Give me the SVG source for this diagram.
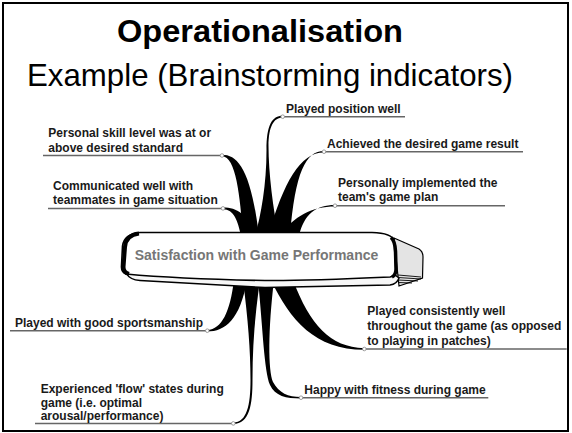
<svg xmlns="http://www.w3.org/2000/svg" width="572" height="433" viewBox="0 0 572 433">
  <style>
    .title { font-family: "Liberation Sans", Arial, sans-serif; fill: #000; }
    .lbl { font-family: "Liberation Sans", Arial, sans-serif; font-size: 12px; font-weight: bold; fill: #1a1a1a; }
    .uline { stroke: #666; stroke-width: 1.5; fill: none; }
    .dot { fill: #fff; stroke: #888; stroke-width: 0.8; }
    .branch { fill: #000; stroke: none; }
    .center-text { font-family: "Liberation Sans", Arial, sans-serif; font-size: 14px; font-weight: bold; fill: #767676; }
  </style>

  <rect x="0" y="0" width="572" height="433" fill="#fff"/>
  <rect x="3" y="3" width="565" height="428" fill="none" stroke="#000" stroke-width="2"/>

  <!-- heading -->
  <text class="title" x="117" y="42" font-size="32" font-weight="bold" textLength="286" lengthAdjust="spacingAndGlyphs">Operationalisation</text>
  <text class="title" x="27" y="86" font-size="31.2" textLength="486" lengthAdjust="spacingAndGlyphs">Example (Brainstorming indicators)</text>

  <!-- tapered branches from the central board -->
  <g id="connectors">
    <!-- top side -->
    <path class="branch" d="M222,154.7 C238,154.7 251,170 259,236 L243,236 C240,196 236,156.3 222,156.3 Z"/>
    <path class="branch" d="M223,207.6 C237,207.6 248,214 255,236 L241,236 C238,221 234,209.2 223,209.2 Z"/>
    <path class="branch" d="M282.7,115.8 C272,115.8 266.5,125 266.5,150 C266.5,185 261,215 255,236 L279,236 C273,210 268.5,172 268.5,146 C268.5,126 274,117.4 282.7,117.4 Z"/>
    <path class="branch" d="M324,151 C306,151 295,172 290,236 L268,236 C284,182 300,152.6 324,152.6 Z"/>
    <path class="branch" d="M335,205 C316,205 304,214 299,236 L280,236 C294,216 312,206.6 335,206.6 Z"/>
    <!-- bottom side -->
    <path class="branch" d="M247,280 C240,320 225,331.5 207.3,331.5 L207.3,330 C222,329 230,312 234,280 Z"/>
    <path class="branch" d="M243,280 C248,320 250.5,350 250.5,380 C250.5,405 247,422.4 233.3,422.6 L233.3,424.1 C249.5,423.5 252.5,405 252.5,380 C252.5,345 255,315 260,280 Z"/>
    <path class="branch" d="M258,280 C263,330 264,370 270,385 C275,396 286,398.5 301,398.5 L301,397 C288,397 279,393 273,382 C268,370 268,330 274,280 Z"/>
    <path class="branch" d="M271,280 C290,320 315,349.8 364.3,349.8 L364.3,348.3 C330,347 310,325 293,280 Z"/>
  </g>

  <!-- central board -->
  <g id="node-center">
    <!-- right side face -->
    <path d="M394,238 L419,249 Q423,251.5 423,257 L422.5,278 L399,286 Z" fill="#e4e4e4" stroke="#000" stroke-width="1.2"/>
    <g stroke="#000" stroke-width="0.9">
      <line x1="398" y1="275" x2="421" y2="277"/>
      <line x1="398" y1="277.5" x2="421" y2="279"/>
      <line x1="398" y1="280" x2="418" y2="281"/>
      <line x1="398" y1="282.5" x2="412" y2="283"/>
    </g>
    <!-- underside band -->
    <path d="M126,273 Q130,280 140,280.5 Q200,284 265,287.5 Q330,286 390,285 Q397,284 399,278 L395,275 Z" fill="#f7f7f7" stroke="#000" stroke-width="1.5"/>
    <!-- front face -->
    <path d="M140,232.5 L372,232.5 Q392,233 394,241 L396,270 Q396,276 390,277 Q300,281 265,280.5 Q180,279 126,274 Q121,272 121.5,266 L122.5,246 Q124,234 140,232.5 Z" fill="#fff" stroke="#000" stroke-width="1.6"/>
    <path d="M139,233.5 Q126,235 125,247 L123.5,267 Q123.5,272.5 129,274" fill="none" stroke="#000" stroke-width="4"/>
    <path d="M391,237.5 Q395,241 395.5,251 L396,269 Q396,275 392,277" fill="none" stroke="#000" stroke-width="3.5"/>
    <text class="center-text" x="256.5" y="260" text-anchor="middle">Satisfaction with Game Performance</text>
  </g>

  <g id="node-position">
    <line class="uline" x1="282.7" y1="116.7" x2="405" y2="116.7"/>
    <circle class="dot" cx="282.7" cy="116.7" r="1.8"/>
    <text class="lbl" x="286" y="112.5">Played position well</text>
  </g>

  <g id="node-result">
    <line class="uline" x1="324" y1="151.7" x2="523" y2="151.7"/>
    <circle class="dot" cx="324" cy="151.7" r="1.8"/>
    <text class="lbl" x="327" y="148.3">Achieved the desired game result</text>
  </g>

  <g id="node-plan">
    <line class="uline" x1="335" y1="205.7" x2="505" y2="205.7"/>
    <circle class="dot" cx="335" cy="205.7" r="1.8"/>
    <text class="lbl" x="338" y="186.7">Personally implemented the</text>
    <text class="lbl" x="338" y="201">team's game plan</text>
  </g>

  <g id="node-skill">
    <line class="uline" x1="43" y1="155.5" x2="222" y2="155.5"/>
    <circle class="dot" cx="222" cy="155.5" r="1.8"/>
    <text class="lbl" x="48.3" y="137.3">Personal skill level was at or</text>
    <text class="lbl" x="48.3" y="151.7">above desired standard</text>
  </g>

  <g id="node-communication">
    <line class="uline" x1="48" y1="208.4" x2="223" y2="208.4"/>
    <circle class="dot" cx="223" cy="208.4" r="1.8"/>
    <text class="lbl" x="53" y="190">Communicated well with</text>
    <text class="lbl" x="53" y="204">teammates in game situation</text>
  </g>

  <g id="node-sportsmanship">
    <line class="uline" x1="10" y1="330.7" x2="207.3" y2="330.7"/>
    <circle class="dot" cx="207.3" cy="330.7" r="1.8"/>
    <text class="lbl" x="15" y="326.7">Played with good sportsmanship</text>
  </g>

  <g id="node-flow">
    <line class="uline" x1="35" y1="423.4" x2="233.3" y2="423.4"/>
    <circle class="dot" cx="233.3" cy="423.4" r="1.8"/>
    <text class="lbl" x="40.7" y="393.3">Experienced 'flow' states during</text>
    <text class="lbl" x="40.7" y="407.3">game (i.e. optimal</text>
    <text class="lbl" x="40.7" y="420.3">arousal/performance)</text>
  </g>

  <g id="node-consistency">
    <line class="uline" x1="364.3" y1="349" x2="566.7" y2="349"/>
    <circle class="dot" cx="364.3" cy="349" r="1.8"/>
    <text class="lbl" x="367.3" y="315">Played consistently well</text>
    <text class="lbl" x="367.3" y="330">throughout the game (as opposed</text>
    <text class="lbl" x="367.3" y="345">to playing in patches)</text>
  </g>

  <g id="node-fitness">
    <line class="uline" x1="301" y1="397.7" x2="488.3" y2="397.7"/>
    <circle class="dot" cx="301" cy="397.7" r="1.8"/>
    <text class="lbl" x="304.3" y="394">Happy with fitness during game</text>
  </g>
</svg>
